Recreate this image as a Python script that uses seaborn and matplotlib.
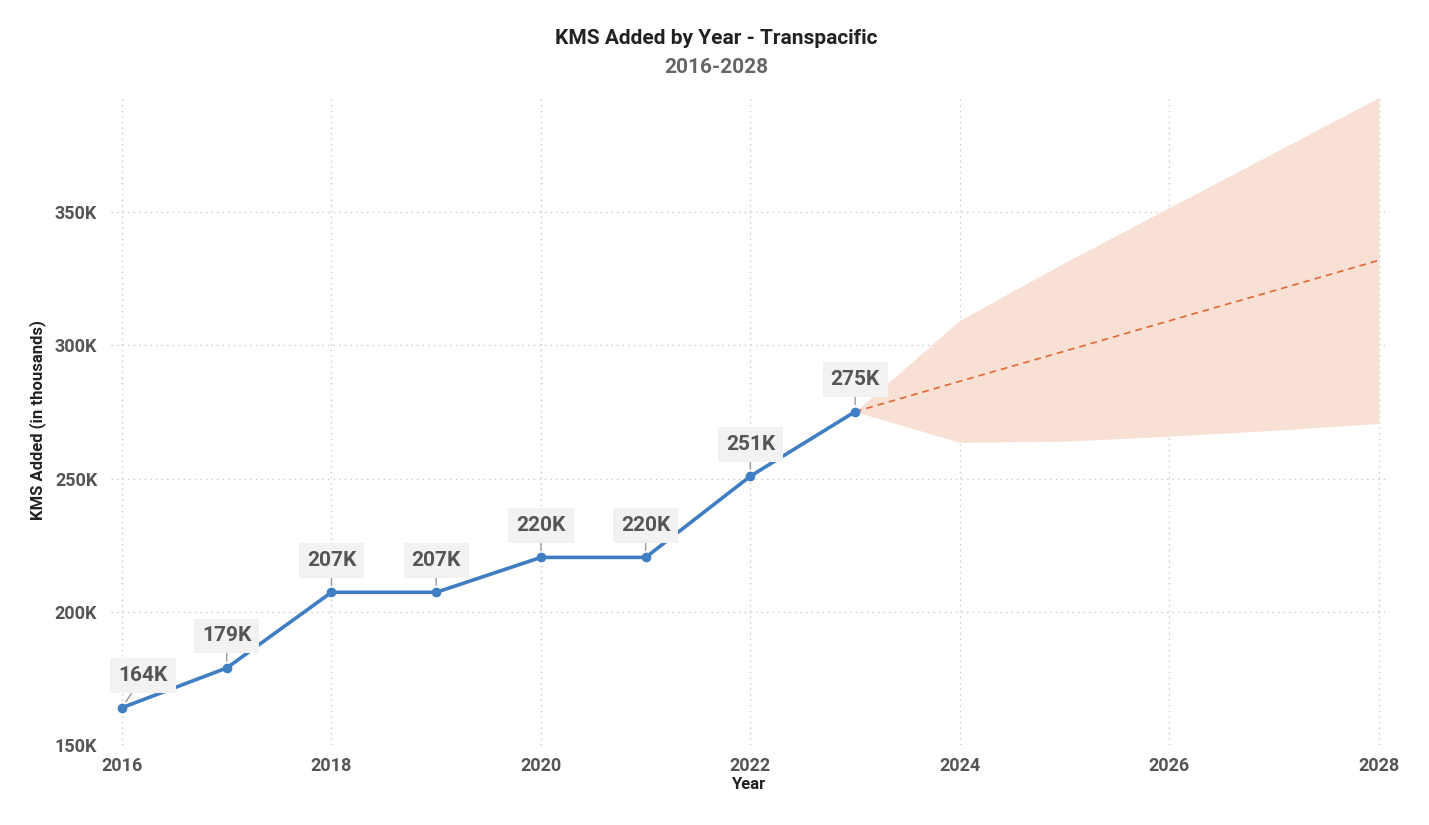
import matplotlib.pyplot as plt
import pandas as pd
import seaborn as sns

# 実績値 (千km)
years = [2016, 2017, 2018, 2019, 2020, 2021, 2022, 2023]
kms_added = [164.0, 178.9, 207.3, 207.3, 220.4, 220.4, 250.9, 275.1]
labels = ["164K", "179K", "207K", "207K", "220K", "220K", "251K", "275K"]

# 予測値と信頼区間
fc_years = [2023, 2024, 2025, 2026, 2027, 2028]
fc_mid = [275.1, 286.5, 297.8, 309.2, 320.5, 331.9]
fc_upper = [275.1, 309.4, 331.0, 351.7, 372.3, 393.0]
fc_lower = [275.1, 263.6, 264.0, 265.9, 268.1, 270.7]

y_ticks = [150, 200, 250, 300, 350]
x_ticks = [2016, 2018, 2020, 2022, 2024, 2026, 2028]

sns.set_theme(style="white")
plt.rcParams["font.family"] = ["Roboto", "DejaVu Sans"]

df = pd.DataFrame({"year": years, "kms": kms_added})
fc = pd.DataFrame({"year": fc_years, "mid": fc_mid})

fig = plt.figure(figsize=(14.29, 8.25), dpi=100)
ax = fig.add_axes([0.0777, 0.097, 0.8913, 0.788])

ax.fill_between(fc_years, fc_lower, fc_upper, color="#F9E0D4", lw=0, zorder=1)
sns.lineplot(data=fc, x="year", y="mid", ax=ax, color="#E0672F", lw=1.2,
             linestyle=(0, (4, 3)), zorder=2)
sns.lineplot(data=df, x="year", y="kms", ax=ax, color="#3F7EC2", lw=2.6,
             marker="o", markersize=7, markeredgewidth=0, zorder=3)

# データラベル
for i, (x, y, lab) in enumerate(zip(years, kms_added, labels)):
    dx = 21 if i == 0 else 0
    ax.annotate(lab, xy=(x, y), xytext=(dx, 32), textcoords="offset pixels",
                ha="center", va="center", fontsize=15, fontweight="bold",
                color="#555555", zorder=4,
                bbox=dict(boxstyle="square,pad=0.38", fc="#F2F2F2", ec="none"),
                arrowprops=dict(arrowstyle="-", color="#999999", lw=1,
                                shrinkA=0, shrinkB=5))

ax.set_xlim(2015.895, 2028.057)
ax.set_ylim(150, 394)
ax.set_xticks(x_ticks)
ax.set_yticks(y_ticks)
ax.set_xticklabels([str(t) for t in x_ticks])
ax.set_yticklabels([f"{t}K" for t in y_ticks])
ax.tick_params(axis="both", length=0, labelsize=13, labelcolor="#555555")
ax.tick_params(axis="x", pad=9)
ax.tick_params(axis="y", pad=10)
for t in ax.get_xticklabels() + ax.get_yticklabels():
    t.set_fontweight("bold")

ax.grid(True, color="#C8C8C8", linestyle=(0, (1, 3)), lw=1)
for s in ax.spines.values():
    s.set_visible(False)

ax.set_xlabel("Year", fontsize=12, fontweight="bold", color="#222222", labelpad=1)
ax.set_ylabel("KMS Added (in thousands)", fontsize=12, fontweight="bold",
              color="#222222", labelpad=6)

fig.text(0.501, 0.953, "KMS Added by Year - Transpacific", ha="center",
         va="center", fontsize=15, fontweight="bold", color="#222222")
fig.text(0.501, 0.918, "2016-2028", ha="center", va="center", fontsize=15,
         fontweight="bold", color="#666666")

fig.savefig("out.png", dpi=100)
